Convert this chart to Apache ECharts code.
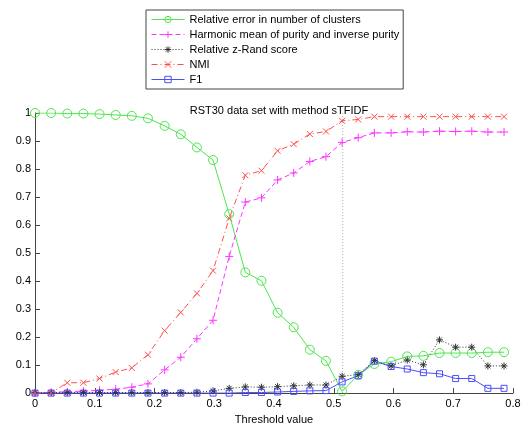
<!DOCTYPE html>
<html>
<head>
<meta charset="utf-8">
<script src="https://cdn.jsdelivr.net/npm/echarts@6/dist/echarts.min.js"></script>
<style>
html,body{margin:0;padding:0;background:#fff;}
#c{width:527px;height:430px;}
</style>
</head>
<body>
<div id="c"></div>
<script>
var thresholds = [0, 0.027, 0.054, 0.081, 0.108, 0.135, 0.162, 0.189, 0.217, 0.244, 0.271, 0.298, 0.325, 0.352, 0.379, 0.406, 0.433, 0.46, 0.487, 0.514, 0.541, 0.568, 0.596, 0.623, 0.65, 0.677, 0.704, 0.731, 0.758, 0.785];
var relError = [1.0, 1.0, 0.998, 0.998, 0.996, 0.993, 0.99, 0.981, 0.954, 0.924, 0.877, 0.832, 0.639, 0.431, 0.401, 0.287, 0.235, 0.155, 0.115, 0.006, 0.065, 0.104, 0.112, 0.131, 0.133, 0.143, 0.143, 0.143, 0.146, 0.146];
var harmPurity = [0, 0.003, 0.005, 0.007, 0.01, 0.014, 0.021, 0.033, 0.083, 0.128, 0.194, 0.26, 0.488, 0.682, 0.697, 0.761, 0.786, 0.827, 0.844, 0.895, 0.912, 0.929, 0.929, 0.933, 0.932, 0.935, 0.934, 0.935, 0.932, 0.932];
var zRand = [0.002, 0.002, 0.002, 0.002, 0.002, 0.002, 0.002, 0.002, 0.002, 0.002, 0.003, 0.008, 0.017, 0.022, 0.021, 0.023, 0.026, 0.029, 0.029, 0.06, 0.066, 0.116, 0.097, 0.118, 0.101, 0.19, 0.164, 0.164, 0.097, 0.097];
var nmi = [0, 0.001, 0.037, 0.037, 0.052, 0.075, 0.09, 0.137, 0.223, 0.288, 0.356, 0.437, 0.624, 0.778, 0.794, 0.865, 0.889, 0.925, 0.934, 0.972, 0.977, 0.987, 0.987, 0.987, 0.987, 0.987, 0.987, 0.987, 0.987, 0.987];
var f1 = [0, 0, 0, 0, 0, 0, 0, 0, 0, 0, 0, 0, 0, 0.002, 0.002, 0.004, 0.006, 0.008, 0.009, 0.04, 0.062, 0.114, 0.095, 0.086, 0.073, 0.069, 0.052, 0.052, 0.017, 0.017];
var markerThreshold = [0.515];
var seriesNames = ['Relative error in number of clusters', 'Harmonic mean of purity and inverse purity', 'Relative z-Rand score', 'NMI', 'F1'];

function pairs(ys){ return thresholds.map(function(x,i){ return [x, ys[i]]; }); }

var plusPath = 'path://M0,5L10,5M5,0L5,10';
var crossPath = 'path://M0,0L10,10M0,10L10,0';
var starPath = 'path://M0,5L10,5M5,0L5,10M1.5,1.5L8.5,8.5M1.5,8.5L8.5,1.5';
var circlePath = 'circle';

function mk(name, ys, color, dash, symbol, size){
  return {
    name: name, type: 'line', data: pairs(ys),
    symbol: symbol, symbolSize: size, showSymbol: true,
    lineStyle: {color: color, width: 1, type: dash},
    itemStyle: {color: 'rgba(0,0,0,0)', borderColor: color, borderWidth: 1},
    emphasis: {disabled: true},
    animation: false, z: 3
  };
}

var chart = echarts.init(document.getElementById('c'));
chart.setOption({
  backgroundColor: '#fff',
  textStyle: {fontFamily: 'Liberation Sans, Arial, sans-serif'},
  title: {
    text: 'RST30 data set with method sTFIDF',
    left: 274, top: 100, textAlign: 'center',
    textStyle: {fontSize: 11, fontWeight: 'normal', color: '#000', fontFamily: 'Liberation Sans, Arial, sans-serif'}
  },
  legend: {
    data: seriesNames,
    orient: 'vertical',
    left: 146, top: 10,
    padding: [3, 4, 3, 5],
    itemWidth: 33, itemHeight: 8, itemGap: 2,
    borderColor: '#444', borderWidth: 1,
    backgroundColor: '#fff',
    lineStyle: {width: 1},
    itemStyle: {borderWidth: 1},
    textStyle: {fontSize: 11, color: '#000', lineHeight: 13, fontFamily: 'Liberation Sans, Arial, sans-serif'},
    selectedMode: false
  },
  grid: {left: 35, right: 14, top: 113, bottom: 28},
  xAxis: {
    type: 'value', min: 0, max: 0.8, interval: 0.1,
    name: 'Threshold value', nameLocation: 'middle', nameGap: 20,
    nameTextStyle: {fontSize: 11, color: '#000'},
    axisLine: {lineStyle: {color: '#444'}},
    axisTick: {inside: true, length: 5, lineStyle: {color: '#444'}},
    axisLabel: {fontSize: 11, color: '#000', margin: 5, formatter: function(v){ return String(Math.round(v*10)/10); }},
    splitLine: {show: false}
  },
  yAxis: {
    type: 'value', min: 0, max: 1, interval: 0.1,
    axisLine: {show: true, lineStyle: {color: '#444'}},
    axisTick: {show: true, inside: true, length: 5, lineStyle: {color: '#444'}},
    axisLabel: {fontSize: 11, color: '#000', margin: 4, formatter: function(v){ return String(Math.round(v*10)/10); }},
    splitLine: {show: false}
  },
  series: [
    {
      type: 'line', name: '_vline', data: [[markerThreshold[0], 0], [markerThreshold[0], 1]],
      symbol: 'none', lineStyle: {color: '#aaa', width: 1, type: [1, 2]}, animation: false, z: 2, silent: true
    },
    mk(seriesNames[0], relError, '#4de64d', 'solid', circlePath, 9),
    mk(seriesNames[1], harmPurity, '#ff33ff', [5, 3], plusPath, 8),
    mk(seriesNames[2], zRand, '#333333', [1, 2], starPath, 7),
    mk(seriesNames[3], nmi, '#ff4d4d', [6, 3, 1, 3], crossPath, 6),
    mk(seriesNames[4], f1, '#4d4dff', 'solid', 'rect', 6)
  ]
});
</script>
</body>
</html>
